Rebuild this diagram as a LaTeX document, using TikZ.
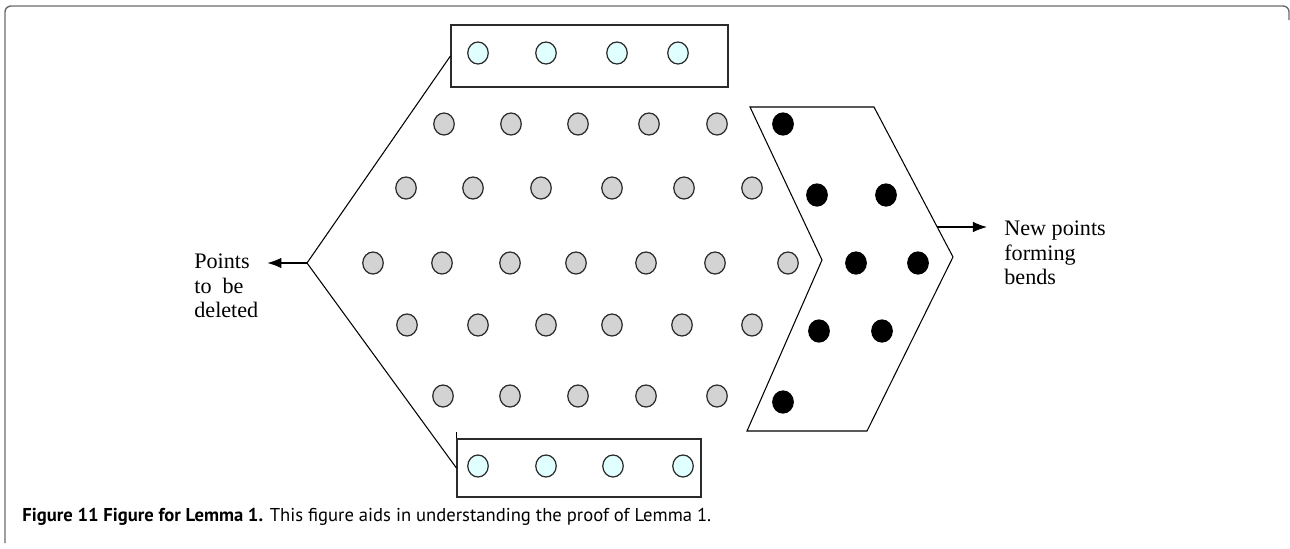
\documentclass[tikz,border=0pt]{standalone}
\usepackage{fontspec}
\setmainfont{Liberation Serif}
\newfontfamily\capfont{PT Sans}
\usepackage{tikz}
\usetikzlibrary{calc,arrows.meta,shapes.geometric}
\definecolor{ptgray}{HTML}{D3D3D3}
\definecolor{ptcyan}{HTML}{E0FFFF}
\definecolor{rim}{HTML}{2B2B2B}
\definecolor{framegray}{HTML}{6B6B6B}
\tikzset{
  ptdot/.style={ellipse, draw=rim, line width=0.7pt, inner sep=0pt, minimum width=0.41cm, minimum height=0.44cm},
  graydot/.style={ptdot, fill=ptgray},
  cyandot/.style={ptdot, fill=ptcyan},
  blackdot/.style={ptdot, draw=black, fill=black},
  outline/.style={draw=black, line width=0.6pt},
  ptbox/.style={rectangle, draw=rim, line width=0.7pt, inner sep=0pt},
  pointer/.style={draw=black, line width=0.6pt, -{Latex[length=8pt,width=6pt]}},
  lab/.style={font=\fontsize{12.6}{13.8}\selectfont, align=left, inner sep=0pt},
}

\begin{document}
\begin{tikzpicture}[x=0.02cm, y=-0.02cm]
\useasboundingbox (0,0) rectangle (1290,548);
% frame
\draw[framegray, line width=0.8pt, rounded corners=3.4pt] (5,543) -- (5,6) -- (1289,6) -- (1289,20);

% boxes of points to be deleted
\node[ptbox, minimum width=5.54cm, minimum height=1.24cm] (topbox) at (589.5,56) {};
\node[ptbox, minimum width=4.88cm, minimum height=1.16cm] (botbox) at (579,468) {};
\draw[outline] (botbox.north west) -- ++(0,-6);
\node[cyandot] (t1) at (478,53) {};
\node[cyandot] (t2) at (546,53) {};
\node[cyandot] (t3) at (617,53) {};
\node[cyandot] (t4) at (678,53) {};
\node[cyandot] (b1) at (478,466) {};
\node[cyandot] (b2) at (546,466) {};
\node[cyandot] (b3) at (613,466) {};
\node[cyandot] (b4) at (683,466) {};

% grid of points
\node[graydot] (g11) at (444,124) {};
\node[graydot] (g12) at (511,124) {};
\node[graydot] (g13) at (578,124) {};
\node[graydot] (g14) at (649,124) {};
\node[graydot] (g15) at (717,124) {};
\node[graydot] (g21) at (406,188) {};
\node[graydot] (g22) at (473,188) {};
\node[graydot] (g23) at (541,188) {};
\node[graydot] (g24) at (612,188) {};
\node[graydot] (g25) at (684,188) {};
\node[graydot] (g26) at (752,188) {};
\node[graydot] (g31) at (373,263) {};
\node[graydot] (g32) at (442,263) {};
\node[graydot] (g33) at (510,263) {};
\node[graydot] (g34) at (576,263) {};
\node[graydot] (g35) at (646,263) {};
\node[graydot] (g36) at (715,263) {};
\node[graydot] (g37) at (788,263) {};
\node[graydot] (g41) at (407,325) {};
\node[graydot] (g42) at (478,325) {};
\node[graydot] (g43) at (546,325) {};
\node[graydot] (g44) at (612,325) {};
\node[graydot] (g45) at (682,325) {};
\node[graydot] (g46) at (752,325) {};
\node[graydot] (g51) at (443,396) {};
\node[graydot] (g52) at (510,396) {};
\node[graydot] (g53) at (578,396) {};
\node[graydot] (g54) at (646,396) {};
\node[graydot] (g55) at (717,396) {};

% new points
\node[blackdot] (n1) at (783,124) {};
\node[blackdot] (n2) at (817,195) {};
\node[blackdot] (n3) at (886,195) {};
\node[blackdot] (n4) at (856,263) {};
\node[blackdot] (n5) at (918,263) {};
\node[blackdot] (n6) at (819,331) {};
\node[blackdot] (n7) at (882,331) {};
\node[blackdot] (n8) at (783,402) {};

% left outline
\coordinate (apex) at (307,263);
\draw[outline] (topbox.west) -- (apex) -- (botbox.west);

% chevron
\coordinate (ctl) at (750,107);
\coordinate (ctr) at (874,107);
\coordinate (ctip) at (953,257);
\coordinate (cbr) at (867,431);
\coordinate (cbl) at (747,431);
\coordinate (cin) at (822,260);
\draw[outline] (ctl) -- (ctr) -- (ctip) -- (cbr) -- (cbl) -- (cin) -- cycle;
\coordinate (cedge) at ($(ctr)!0.8!(ctip)$);

% labels
\node[lab, anchor=west] (dellab) at (194,286) {Points\\to\ \ be\\deleted};
\node[lab, anchor=west] (newlab) at (1004,253) {New points\\forming\\bends};
\draw[pointer, shorten >=5pt] (apex) -- (apex -| dellab.east);
\draw[pointer, shorten >=9.7pt] (cedge) -- (cedge -| newlab.west);

% caption
\node[anchor=base west, inner sep=0pt, font=\capfont\fontsize{10.6}{12}\selectfont] (cap) at (22,521)
  {\textbf{Figure 11 Figure for Lemma 1.} This figure aids in understanding the proof of Lemma 1.};
\end{tikzpicture}
\end{document}
